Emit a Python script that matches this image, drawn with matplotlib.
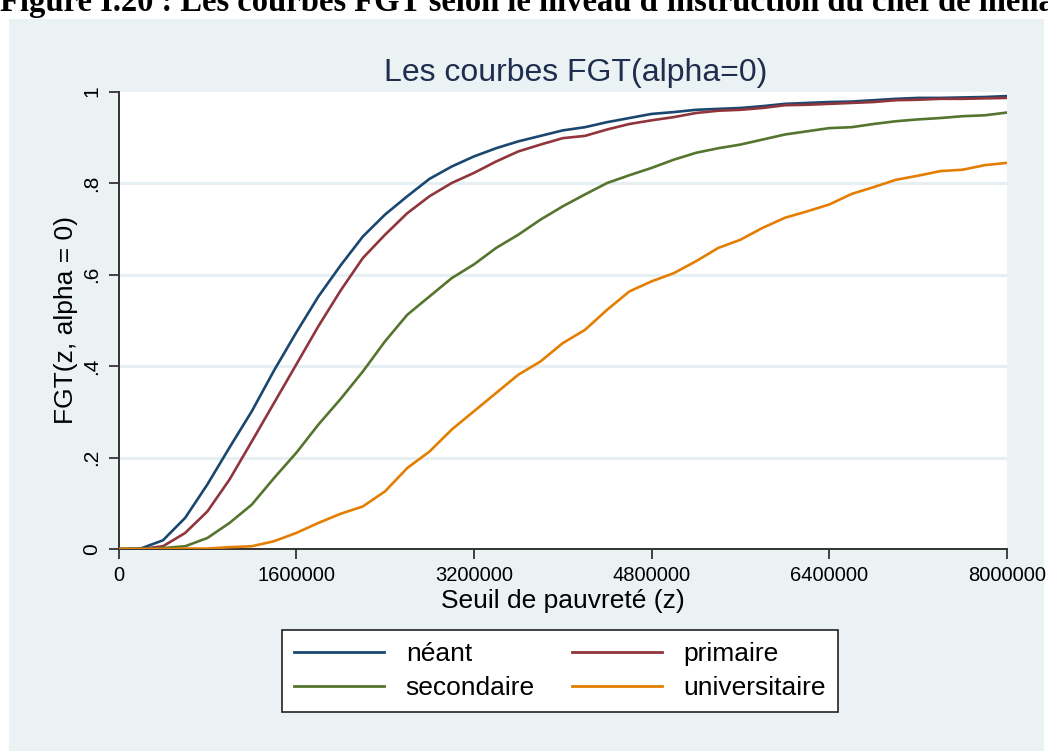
import matplotlib
matplotlib.use("Agg")
import matplotlib.pyplot as plt
from matplotlib.patches import Rectangle

# ---------------- data ----------------
z = [i * 200000 for i in range(41)]

neant = [0.000, 0.001, 0.019, 0.068, 0.141, 0.222, 0.301, 0.390, 0.473, 0.552,
         0.620, 0.683, 0.731, 0.771, 0.809, 0.836, 0.858, 0.876, 0.891, 0.903,
         0.915, 0.922, 0.933, 0.942, 0.951, 0.955, 0.960, 0.962, 0.964, 0.968,
         0.973, 0.975, 0.977, 0.978, 0.981, 0.984, 0.986, 0.986, 0.987, 0.988,
         0.990]
primaire = [0.000, 0.000, 0.006, 0.035, 0.082, 0.152, 0.235, 0.319, 0.403, 0.487,
            0.565, 0.636, 0.687, 0.734, 0.771, 0.800, 0.822, 0.847, 0.869, 0.884,
            0.898, 0.903, 0.917, 0.929, 0.937, 0.944, 0.953, 0.958, 0.960, 0.964,
            0.970, 0.971, 0.973, 0.975, 0.977, 0.981, 0.982, 0.984, 0.984, 0.985,
            0.986]
secondaire = [0.000, 0.000, 0.002, 0.006, 0.024, 0.057, 0.097, 0.155, 0.210, 0.272,
              0.328, 0.388, 0.454, 0.512, 0.552, 0.592, 0.622, 0.658, 0.687, 0.720,
              0.749, 0.775, 0.800, 0.817, 0.833, 0.851, 0.866, 0.876, 0.884, 0.895,
              0.906, 0.913, 0.920, 0.922, 0.929, 0.935, 0.939, 0.942, 0.946, 0.948,
              0.954]
universitaire = [0.000, 0.000, 0.000, 0.001, 0.001, 0.004, 0.006, 0.017, 0.035, 0.057,
                 0.077, 0.093, 0.126, 0.177, 0.213, 0.261, 0.301, 0.341, 0.381, 0.410,
                 0.450, 0.479, 0.523, 0.563, 0.585, 0.603, 0.629, 0.658, 0.676, 0.702,
                 0.724, 0.738, 0.753, 0.776, 0.791, 0.807, 0.816, 0.826, 0.829, 0.839,
                 0.844]

series_names = ["néant", "primaire", "secondaire", "universitaire"]
series_values = [neant, primaire, secondaire, universitaire]
series_colors = ["#1a476f", "#90353b", "#55752f", "#e37e00"]

x_ticks = [0, 1600000, 3200000, 4800000, 6400000, 8000000]
x_ticklabels = ["0", "1600000", "3200000", "4800000", "6400000", "8000000"]
y_ticks = [0, 0.2, 0.4, 0.6, 0.8, 1.0]
y_ticklabels = ["0", ".2", ".4", ".6", ".8", "1"]
grid_levels = [0.2, 0.4, 0.6, 0.8]

title = "Les courbes FGT(alpha=0)"
xlabel = "Seuil de pauvreté (z)"
ylabel = "FGT(z, alpha = 0)"
caption = "Figure I.20 : Les courbes FGT selon le niveau d'instruction du chef de ménage"

# ---------------- figure ----------------
W, H = 1048, 751
plt.rcParams['font.family'] = ['Liberation Sans', 'DejaVu Sans']
fig = plt.figure(figsize=(W / 100, H / 100), dpi=100, facecolor="white")

BG = "#eaf2f3"
fig.patches.append(Rectangle((9 / W, 0), (1044 - 9) / W, (H - 19) / H,
                             transform=fig.transFigure, facecolor=BG,
                             edgecolor="none", zorder=-10))

# caption of the document page, cut at the top edge as in the reference
fig.text(0 / W, 1 - 11 / H, caption, ha="left", va="baseline",
         fontsize=23.5, fontweight="bold", family=["Liberation Serif", "DejaVu Serif"],
         color="black", zorder=5)

x0, x1 = 118.5, 1007
y0, y1 = 91.5, 549
ax = fig.add_axes([x0 / W, 1 - y1 / H, (x1 - x0) / W, (y1 - y0) / H])
ax.set_zorder(1)
ax.set_facecolor("white")

for g in grid_levels:
    ax.axhline(g, color="#e6eff1", lw=2.2, zorder=1)

lines = []
for name, vals, col in zip(series_names, series_values, series_colors):
    ln, = ax.plot(z, vals, color=col, lw=1.9, label=name, zorder=3,
                  solid_joinstyle="round")
    lines.append(ln)

ax.set_xlim(0, 8000000)
ax.set_ylim(0, 1)

for s in ["top", "right"]:
    ax.spines[s].set_visible(False)
for s in ["left", "bottom"]:
    ax.spines[s].set_color("#333333")
    ax.spines[s].set_linewidth(1.4)

ax.set_xticks(x_ticks)
ax.set_xticklabels(x_ticklabels, family=["Liberation Sans Narrow", "Liberation Sans"],
                   fontsize=14.5)
ax.set_yticks(y_ticks)
ax.set_yticklabels(y_ticklabels, rotation=90, va="center",
                   family=["Liberation Sans", "DejaVu Sans"], fontsize=15)
ax.tick_params(axis="both", direction="out", length=7.5, width=1.3,
               color="#333333", labelcolor="black", pad=5)

fig.text(563 / W, 1 - 608 / H, xlabel, ha="center", va="baseline",
         fontsize=19, color="black")
fig.text(66 / W, 1 - 320 / H, ylabel, ha="center", va="center",
         rotation=90, fontsize=19, color="black")
fig.text(575.5 / W, 1 - 81 / H, title, ha="center", va="baseline",
         fontsize=23, color="#1f2d4e")

# row-wise legend order (matplotlib fills columns first)
order = [0, 2, 1, 3]
leg = fig.legend([lines[i] for i in order], [series_names[i] for i in order],
                 loc="center", bbox_to_anchor=(560 / W, 1 - 671 / H),
                 ncol=2, fontsize=19, frameon=True, fancybox=False, framealpha=1,
                 handlelength=3.4, handletextpad=0.83, columnspacing=1.4,
                 borderpad=0.45, labelspacing=0.38, borderaxespad=0)
leg.get_frame().set_edgecolor("#222222")
leg.get_frame().set_linewidth(1.2)
leg.get_frame().set_facecolor("white")
for line in leg.get_lines():
    line.set_linewidth(2.0)

fig.savefig("out.png", dpi=100, facecolor="white")
